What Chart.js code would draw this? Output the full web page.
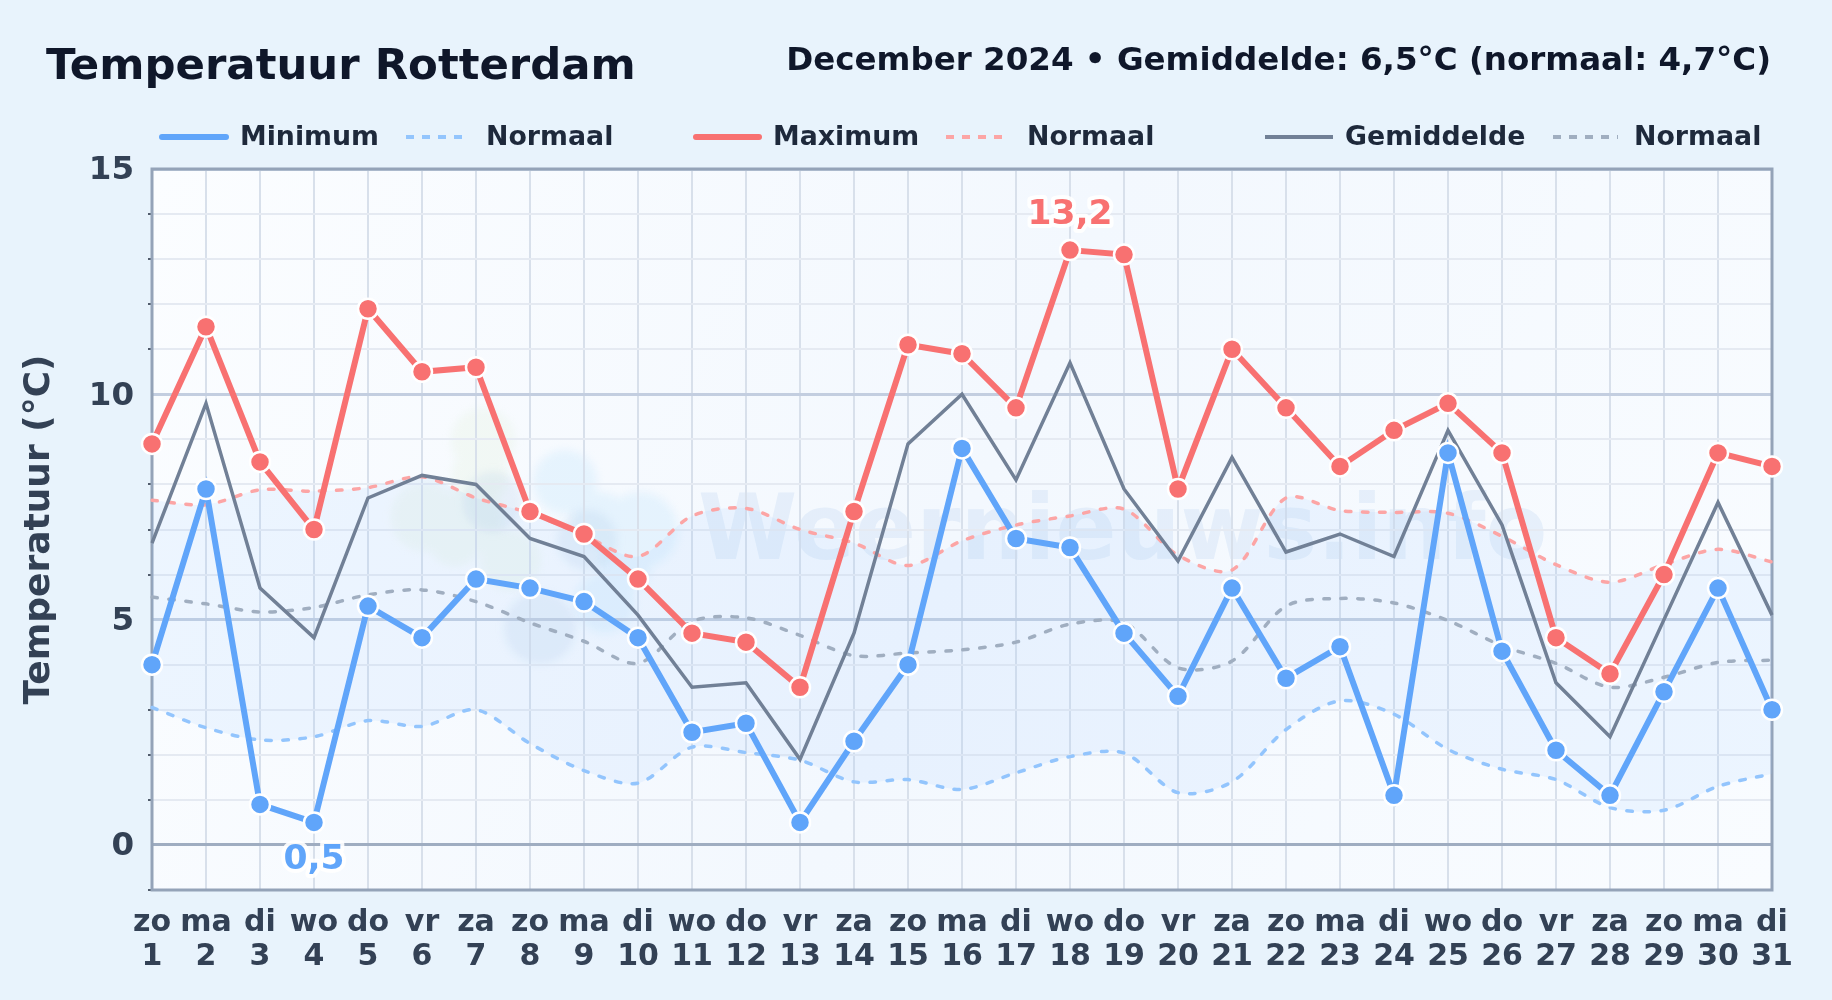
<!DOCTYPE html>
<html lang="nl">
<head>
<meta charset="UTF-8">
<title>Temperatuur Rotterdam</title>
<script src="https://cdn.jsdelivr.net/npm/chart.js"></script>
<style>
  html, body { margin: 0; padding: 0; background: #e8f3fc; }
  #wrap { position: relative; width: 1832px; height: 1000px; overflow: hidden; }
</style>
</head>
<body>
<div id="wrap"><canvas id="chart" width="1832" height="1000"></canvas></div>
<script>
// day labels
const weekdays = ['zo','ma','di','wo','do','vr','za','zo','ma','di','wo','do','vr','za','zo','ma','di','wo','do','vr','za','zo','ma','di','wo','do','vr','za','zo','ma','di'];
const days = ['1','2','3','4','5','6','7','8','9','10','11','12','13','14','15','16','17','18','19','20','21','22','23','24','25','26','27','28','29','30','31'];

// measured values
const minimum = [4.0,7.9,0.9,0.5,5.3,4.6,5.9,5.7,5.4,4.6,2.5,2.7,0.5,2.3,4.0,8.8,6.8,6.6,4.7,3.3,5.7,3.7,4.4,1.1,8.7,4.3,2.1,1.1,3.4,5.7,3.0];
const maximum = [8.9,11.5,8.5,7.0,11.9,10.5,10.6,7.4,6.9,5.9,4.7,4.5,3.5,7.4,11.1,10.9,9.7,13.2,13.1,7.9,11.0,9.7,8.4,9.2,9.8,8.7,4.6,3.8,6.0,8.7,8.4];
const gemiddelde = [6.7,9.8,5.7,4.6,7.7,8.2,8.0,6.8,6.4,5.1,3.5,3.6,1.9,4.7,8.9,10.0,8.1,10.7,7.9,6.3,8.6,6.5,6.9,6.4,9.2,7.1,3.6,2.4,5.0,7.6,5.1];

// climate normals
const normaalMin = [3.05,2.6,2.33,2.4,2.76,2.63,3.0,2.25,1.65,1.37,2.17,2.05,1.88,1.4,1.45,1.23,1.6,1.96,2.04,1.16,1.4,2.56,3.2,2.9,2.12,1.68,1.45,0.83,0.77,1.3,1.58];
const normaalMax = [7.65,7.55,7.88,7.85,7.93,8.17,7.7,7.36,6.87,6.4,7.3,7.47,7.0,6.7,6.2,6.75,7.1,7.3,7.45,6.43,6.1,7.7,7.42,7.38,7.36,6.85,6.22,5.83,6.22,6.56,6.28];
const normaalGem = [5.5,5.35,5.17,5.27,5.55,5.66,5.4,4.93,4.52,4.03,4.96,5.04,4.65,4.2,4.26,4.33,4.5,4.9,4.93,3.93,4.08,5.3,5.47,5.37,4.98,4.42,4.03,3.5,3.72,4.05,4.1];

const FONT = '"DejaVu Sans"';
const BLUE = '#60a5fa', RED = '#f87171', GREY = '#718096';
const BLUE_N = '#93c5fd', RED_N = '#fca5a5', GREY_N = '#a0aec0';

// background of plot area, watermark
const backdrop = {
  id: 'backdrop',
  beforeDraw(chart) {
    const { ctx, chartArea: a } = chart;
    ctx.save();
    const g = ctx.createLinearGradient(a.left, a.top, a.right, a.bottom);
    g.addColorStop(0, '#fbfdff');
    g.addColorStop(0.5, '#f3f8fe');
    g.addColorStop(1, '#f9fcff');
    ctx.fillStyle = g;
    ctx.fillRect(a.left, a.top, a.right - a.left, a.bottom - a.top);

    // logo blobs, one path per colour so overlaps do not add up
    const blob = (c, pts) => {
      ctx.fillStyle = c;
      ctx.beginPath();
      pts.forEach(p => { ctx.moveTo(p[0] + p[2], p[1]); ctx.arc(p[0], p[1], p[2], 0, Math.PI * 2); });
      ctx.fill();
    };
    ctx.filter = 'blur(4px)';
    blob('rgba(214,235,190,0.16)', [[483,440,32],[480,475,28],[425,517,34],[470,520,34],[510,560,30],[455,540,26]]);
    blob('rgba(186,226,250,0.28)', [[565,482,32],[600,520,28],[640,530,38],[605,603,30],[625,565,26]]);
    blob('rgba(150,185,225,0.16)', [[493,502,30],[587,540,30],[540,628,36]]);
    ctx.filter = 'none';

    ctx.font = 'bold 90px ' + FONT;
    ctx.fillStyle = 'rgba(90,150,215,0.10)';
    ctx.textAlign = 'left';
    ctx.textBaseline = 'middle';
    ctx.fillText('Weernieuws.info', 698, 536);
    ctx.restore();
  },
  beforeDatasetsDraw(chart) {
    const { ctx, chartArea: a } = chart;
    ctx.save();
    ctx.strokeStyle = '#94a3b8';
    ctx.lineWidth = 3;
    ctx.strokeRect(a.left, a.top, a.right - a.left, a.bottom - a.top);
    ctx.restore();
  }
};

// header and legend text
const legendRow = [
  { name: 'Minimum', color: BLUE, w: 6, cap: 'round', x0: 162, x1: 226, tx: 240 },
  { name: 'Normaal', color: BLUE_N, w: 4, dash: [8, 8], x0: 406, x1: 464, tx: 486 },
  { name: 'Maximum', color: RED, w: 6, cap: 'round', x0: 696, x1: 759, tx: 773 },
  { name: 'Normaal', color: RED_N, w: 4, dash: [8, 8], x0: 946, x1: 1005, tx: 1027 },
  { name: 'Gemiddelde', color: GREY, w: 4, x0: 1265, x1: 1333, tx: 1345 },
  { name: 'Normaal', color: GREY_N, w: 4, dash: [8, 8], x0: 1553, x1: 1618, tx: 1634 }
];

const header = {
  id: 'header',
  afterDraw(chart) {
    const { ctx, scales } = chart;
    ctx.save();
    ctx.textBaseline = 'middle';
    ctx.fillStyle = '#0f172a';
    ctx.font = 'bold 43.4px ' + FONT;
    ctx.textAlign = 'left';
    ctx.fillText('Temperatuur Rotterdam', 46, 68);
    ctx.font = 'bold 32.5px ' + FONT;
    ctx.textAlign = 'right';
    ctx.fillText('December 2024 • Gemiddelde: 6,5°C (normaal: 4,7°C)', 1771, 62);

    ctx.textAlign = 'left';
    ctx.font = 'bold 26.8px ' + FONT;
    legendRow.forEach(l => {
      ctx.strokeStyle = l.color;
      ctx.lineWidth = l.w;
      ctx.lineCap = l.cap || 'butt';
      ctx.setLineDash(l.dash || []);
      ctx.beginPath();
      ctx.moveTo(l.x0, 137);
      ctx.lineTo(l.x1, 137);
      ctx.stroke();
      ctx.setLineDash([]);
      ctx.fillStyle = '#1e293b';
      ctx.fillText(l.name, l.tx, 138);
    });

    // highest and lowest value labels
    const hi = maximum.indexOf(Math.max(...maximum));
    const lo = minimum.indexOf(Math.min(...minimum));
    const tag = (i, v, color, dy) => {
      const px = scales.x.getPixelForValue(i);
      const py = scales.y.getPixelForValue(v) + dy;
      const txt = v.toFixed(1).replace('.', ',');
      ctx.font = 'bold 34.5px ' + FONT;
      ctx.textAlign = 'center';
      ctx.lineJoin = 'round';
      ctx.strokeStyle = 'rgba(255,255,255,0.9)';
      ctx.lineWidth = 8;
      ctx.strokeText(txt, px, py);
      ctx.fillStyle = color;
      ctx.fillText(txt, px, py);
    };
    tag(hi, maximum[hi], RED, -35);
    tag(lo, minimum[lo], BLUE, 38);
    ctx.restore();
  }
};

const solid = (label, data, color, order) => ({
  label, data, order, borderColor: color, borderWidth: 6,
  pointRadius: 10, pointHoverRadius: 10, pointBackgroundColor: color,
  pointBorderColor: '#ffffff', pointBorderWidth: 2.5, fill: false, tension: 0, clip: false
});
const dashed = (label, data, color, order, fill) => ({
  label, data, order, borderColor: color, borderWidth: 3.5, borderDash: [5.5, 11.5], borderCapStyle: 'round',
  pointRadius: 0, fill: fill, backgroundColor: 'rgba(147,197,253,0.12)', tension: 0.3
});

new Chart(document.getElementById('chart'), {
  type: 'line',
  data: {
    labels: weekdays.map((d, i) => [d, days[i]]),
    datasets: [
      dashed('Normaal min', normaalMin, BLUE_N, 6, false),
      dashed('Normaal max', normaalMax, RED_N, 5, '-1'),
      dashed('Normaal gem', normaalGem, GREY_N, 4, false),
      { label: 'Gemiddelde', data: gemiddelde, order: 3, borderColor: GREY, borderWidth: 3.5, pointRadius: 0, fill: false, tension: 0 },
      solid('Maximum', maximum, RED, 2),
      solid('Minimum', minimum, BLUE, 1)
    ]
  },
  options: {
    responsive: false,
    animation: false,
    devicePixelRatio: 1,
    layout: { padding: { top: 169, right: 60, left: 0, bottom: 0 } },
    plugins: { legend: { display: false }, title: { display: false }, tooltip: { enabled: false } },
    scales: {
      x: {
        type: 'category',
        offset: false,
        afterFit(s) { s.height = 110; },
        grid: { color: '#d8e0eb', lineWidth: 2, drawTicks: false },
        border: { display: false },
        ticks: {
          autoSkip: false, maxRotation: 0, minRotation: 0, padding: 16,
          color: '#334155', font: { family: FONT, weight: 'bold', size: 30, lineHeight: 1.14 }
        }
      },
      y: {
        min: -1,
        max: 15,
        afterFit(s) { s.width = 152; },
        title: {
          display: true, text: 'Temperatuur (°C)', color: '#334155', padding: { top: 18, bottom: 0 },
          font: { family: FONT, weight: 'bold', size: 36 }
        },
        border: { display: false },
        grid: {
          color: c => c.tick.value === 0 ? '#9fadc1' : (c.tick.value % 5 === 0 ? '#c3cee0' : '#e5eaf2'),
          lineWidth: c => c.tick.value % 5 === 0 ? 3 : 2,
          tickColor: c => c.tick.value % 5 === 0 ? 'rgba(0,0,0,0)' : '#1e293b',
          tickLength: 4,
          tickWidth: 1.5
        },
        ticks: {
          stepSize: 1, autoSkip: false, padding: 14, labelOffset: 2,
          color: '#334155', font: { family: FONT, weight: 'bold', size: 32.5 },
          callback: v => v >= 0 && v % 5 === 0 ? String(v) : ''
        }
      }
    }
  },
  plugins: [backdrop, header]
});
</script>
</body>
</html>
